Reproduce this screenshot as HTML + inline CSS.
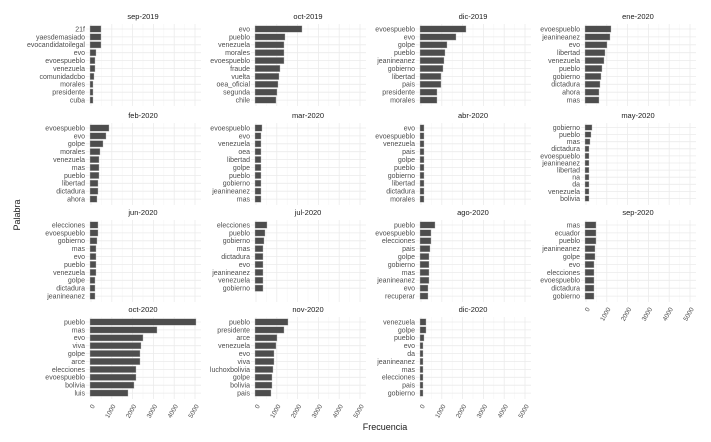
<!DOCTYPE html>
<html><head><meta charset="utf-8"><style>
html,body{margin:0;padding:0;background:#fff;}
svg text{font-family:"Liberation Sans",sans-serif;}
</style></head><body>
<svg id="s" width="711" height="437" xmlns="http://www.w3.org/2000/svg"></svg>
<script>
var P=[
["sep-2019",["21f","yaesdemasiado","evocandidatoilegal","evo","evoespueblo","venezuela","comunidadcbo","morales","presidente","cuba"],[10,10,10,5,4,4,3,2,2,2]],
["oct-2019",["evo","pueblo","venezuela","morales","evoespueblo","fraude","vuelta","oea_oficial","segunda","chile"],[46,29,28,28,28,24,23,22,21,20]],
["dic-2019",["evoespueblo","evo","golpe","pueblo","jeanineanez","gobierno","libertad","pais","presidente","morales"],[45,35,26,24,23,22,20,20,16,16]],
["ene-2020",["evoespueblo","jeanineanez","evo","libertad","venezuela","pueblo","gobierno","dictadura","ahora","mas"],[25,24,21,19,18,16,15,14,13,13]],
["feb-2020",["evoespueblo","evo","golpe","morales","venezuela","mas","pueblo","libertad","dictadura","ahora"],[18,15,12,9,8,8,8,7,7,6]],
["mar-2020",["evoespueblo","evo","venezuela","oea","libertad","golpe","pueblo","gobierno","jeanineanez","mas"],[6,5,5,5,5,5,5,5,5,5]],
["abr-2020",["evo","evoespueblo","venezuela","pais","golpe","pueblo","gobierno","libertad","dictadura","morales"],[3,3,3,3,3,3,3,3,3,3]],
["may-2020",["gobierno","pueblo","mas","dictadura","evoespueblo","jeanineanez","libertad","na","da","venezuela","bolivia"],[6,5,4,3,3,3,3,3,3,3,3]],
["jun-2020",["elecciones","evoespueblo","gobierno","mas","evo","pueblo","venezuela","golpe","dictadura","jeanineanez"],[7,7,6,5,5,5,5,4,4,4]],
["jul-2020",["elecciones","pueblo","gobierno","mas","dictadura","evo","jeanineanez","venezuela","gobierno"],[11,9,8,7,7,7,7,7,7]],
["ago-2020",["pueblo","evoespueblo","elecciones","pais","golpe","gobierno","mas","jeanineanez","evo","recuperar"],[14,10,10,9,8,8,8,8,7,7]],
["sep-2020",["mas","ecuador","pueblo","jeanineanez","golpe","evo","elecciones","evoespueblo","dictadura","gobierno"],[10,10,10,9,9,8,8,8,8,8]],
["oct-2020",["pueblo","mas","evo","viva","golpe","arce","elecciones","evoespueblo","bolivia","luis"],[105,66,52,50,49,49,45,45,43,37]],
["nov-2020",["pueblo","presidente","arce","venezuela","evo","viva","luchoxbolivia","golpe","bolivia","pais"],[32,28,21,20,18,18,17,16,16,15]],
["dic-2020",["venezuela","golpe","pueblo","evo","da","jeanineanez","mas","elecciones","pais","gobierno"],[5,5,3,2,2,2,2,2,2,2]]
];
var X=[91,256,421,586],Y=[24,123,220,317],H=82,o='';
var sc=104/5000;
for(var k=0;k<15;k++){
 var c=k%4,r=Math.floor(k/4),x0=X[c],t=Y[r],p=P[k];
 var L=p[1],V=p[2];
 var n=L.length;
 o+='<text x="'+(x0+52)+'" y="'+(t-5)+'" font-size="7.5" fill="#1a1a1a" text-anchor="middle">'+p[0]+'</text>';
 for(var g=-500;g<=5000;g+=500){var gx=x0+g*sc;if(gx<x0-5)continue;o+='<line x1="'+gx+'" x2="'+gx+'" y1="'+t+'" y2="'+(t+H)+'" stroke="'+(g%1000?'#f4f4f4':'#ebebeb')+'" stroke-width="'+(g%1000?0.5:0.8)+'"/>';}
 var sp=(n==11)?7.1:7.9, bh=(n==11)?5.6:6.4;
 var first=(n==11)?t+4.5:t+5;
 for(var i=0;i<n;i++){var cy=first+i*sp;
  o+='<line x1="'+(x0-5)+'" x2="'+(x0+110)+'" y1="'+cy+'" y2="'+cy+'" stroke="#ebebeb" stroke-width="0.8"/>';
  o+='<rect x="'+(x0-1)+'" y="'+(cy-bh/2)+'" width="'+(V[i]+1)+'" height="'+bh+'" fill="#4d4d4d" stroke="#bbb" stroke-width="0.4"/>';
  o+='<text x="'+(x0-6)+'" y="'+(cy+2.4)+'" font-size="7" fill="#4d4d4d" text-anchor="end">'+L[i]+'</text>';}
 if(r==3||k==11){var ty=t+H+7;
  for(var v=0;v<=5000;v+=1000){var tx=x0+2+v*sc;
   o+='<text transform="translate('+(tx+2)+','+ty+') rotate(-60)" font-size="6.5" fill="#4d4d4d" text-anchor="end">'+v+'</text>';}}
}
o+='<text x="385" y="430" font-size="9" fill="#1a1a1a" text-anchor="middle">Frecuencia</text>';
o+='<text transform="translate(20,215) rotate(-90)" font-size="9" fill="#1a1a1a" text-anchor="middle">Palabra</text>';
document.getElementById('s').innerHTML=o;
</script>
</body></html>
